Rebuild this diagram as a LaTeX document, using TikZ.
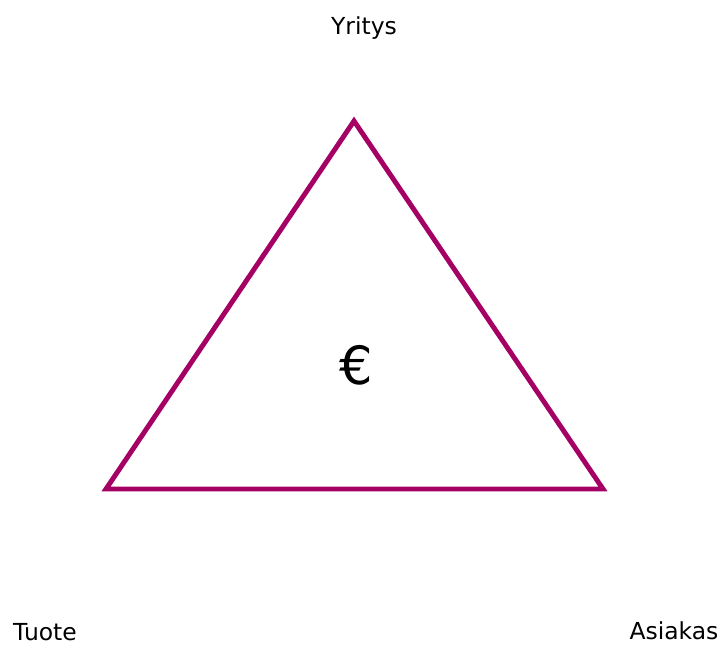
\documentclass[tikz,border=0pt]{standalone}
\usepackage{fontspec}
\setmainfont{DejaVu Sans}
\definecolor{triPurple}{RGB}{165,0,100}

\begin{document}
\begin{tikzpicture}[x=0.03cm, y=-0.03cm,
  corner label/.style={anchor=base, inner sep=0pt, font=\fontsize{20pt}{24pt}\selectfont},
  tri edge/.style={triPurple, line width=4.2pt, line join=miter}]
\useasboundingbox (0,0) rectangle (722,646);
%
\coordinate (yritysTop) at (354,121);
\coordinate (tuoteCorner) at (106,489);
\coordinate (asiakasCorner) at (603,489);
\draw[tri edge] (yritysTop) -- (asiakasCorner) -- (tuoteCorner) -- cycle;

%
\node[corner label] (yritys) at (364,35) {Yritys};
\node[corner label] (tuote) at (45,640) {Tuote};
\node[corner label] (asiakas) at (674,639) {Asiakas};
\node[anchor=base, inner sep=0pt, font=\fontsize{45pt}{50pt}\selectfont] (euro) at (356,384) {€};
\end{tikzpicture}
\end{document}
